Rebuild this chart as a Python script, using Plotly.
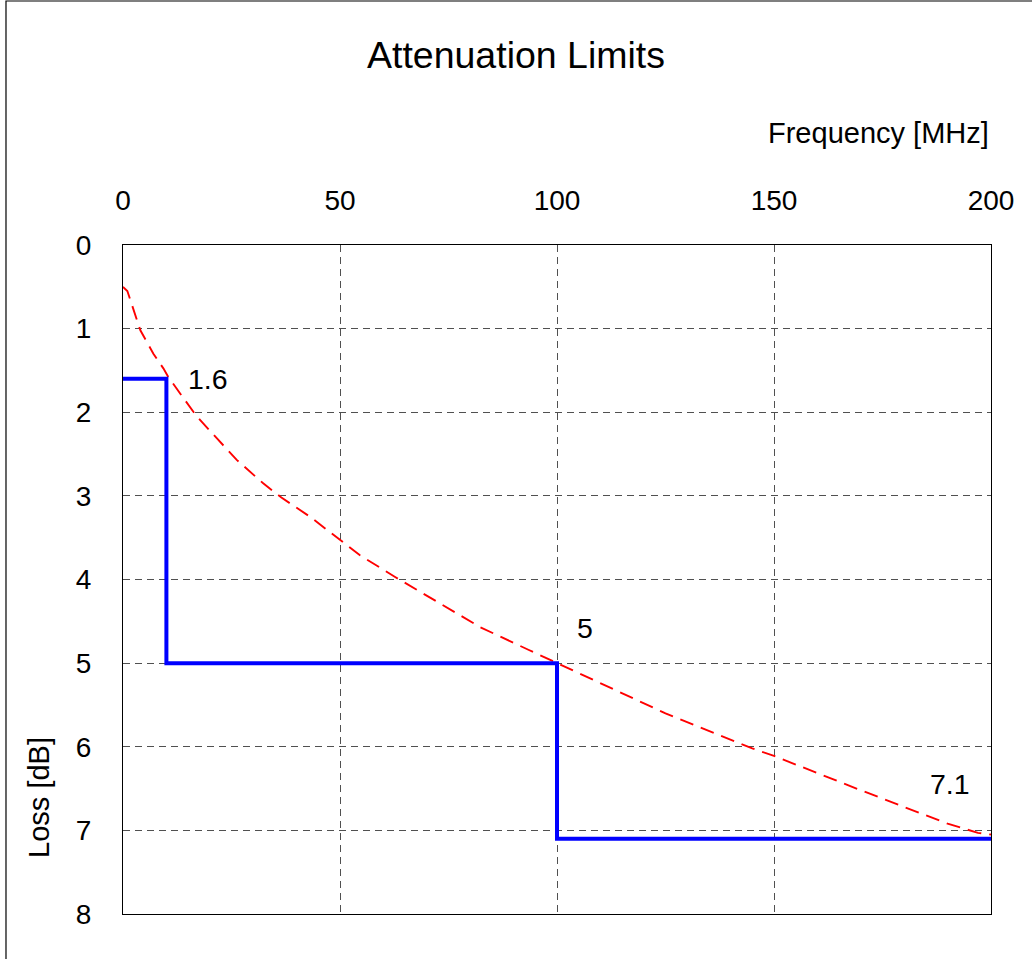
import plotly.graph_objects as go

# Limit (blue step line)
limit_freq = [0, 10, 10, 100, 100, 200]
limit_loss = [1.6, 1.6, 5.0, 5.0, 7.1, 7.1]

# Red dashed attenuation curve
curve_freq = [0, 1, 4, 7, 9.3, 10.4, 13.5, 17, 21.6, 26.2, 32.3, 36.5, 43.1, 49.6, 54.6,
              62.7, 73, 82.3, 93.4, 100, 125, 145, 150, 170, 180, 190, 197, 200]
curve_loss = [0.5, 0.55, 1.02, 1.30, 1.475, 1.575, 1.8, 2.05, 2.31, 2.57, 2.85, 3.02, 3.25, 3.51, 3.71,
              3.97, 4.29, 4.57, 4.84, 5.0, 5.6, 6.02, 6.11, 6.52, 6.72, 6.92, 7.03, 7.05]

# Labels
label_freq = [19.5, 106.5, 190.5]
label_loss = [1.6, 4.58, 6.44]
label_text = ["1.6", "5", "7.1"]

FONT = "Liberation Sans, Arial, sans-serif"

fig = go.Figure()
fig.add_trace(go.Scatter(x=curve_freq, y=curve_loss, mode="lines",
                         line=dict(color="#ff0000", width=1.9, dash="14px,8px"),
                         showlegend=False, hoverinfo="skip"))
fig.add_trace(go.Scatter(x=limit_freq, y=limit_loss, mode="lines",
                         line=dict(color="#0000ff", width=4),
                         showlegend=False))

for fx, fy, t in zip(label_freq, label_loss, label_text):
    fig.add_annotation(x=fx, y=fy, text=t, showarrow=False,
                       font=dict(size=28.5, color="black", family=FONT))

fig.add_annotation(xref="paper", yref="paper", x=1.0, y=1.167, xanchor="right",
                   yanchor="middle", text="Frequency [MHz]", showarrow=False,
                   font=dict(size=29, color="black", family=FONT))
fig.add_annotation(xref="paper", yref="paper", x=-0.0968, y=0.175, xanchor="center",
                   yanchor="middle", text="Loss [dB]", textangle=-90, showarrow=False,
                   font=dict(size=29, color="black", family=FONT))

# Outer frame (left and top edges visible)
fig.add_shape(type="rect", xref="paper", yref="paper", x0=-0.1348, x1=1.3,
              y0=-0.3, y1=1.3647, line=dict(color="black", width=1.2), layer="below")

fig.update_layout(
    width=1032, height=959,
    margin=dict(l=123, r=41, t=245, b=45),
    paper_bgcolor="white", plot_bgcolor="white",
    font=dict(family=FONT, size=28, color="black"),
    title=dict(text="Attenuation Limits", x=0.5, xanchor="center", y=0.943,
               yanchor="middle", font=dict(size=37.5, family=FONT, color="black")),
)
fig.update_xaxes(range=[0, 200], side="top", dtick=50, tick0=0,
                 showgrid=True, gridcolor="#505050", griddash="7px,5px", gridwidth=1,
                 showline=True, linecolor="black", linewidth=1.2, mirror=True,
                 zeroline=False, ticks="", ticklabelstandoff=23,
                 tickfont=dict(size=28))
fig.update_yaxes(range=[8, 0], dtick=1, tick0=0,
                 showgrid=True, gridcolor="#505050", griddash="7px,5px", gridwidth=1,
                 showline=True, linecolor="black", linewidth=1.2, mirror=True,
                 zeroline=False, ticks="", ticklabelstandoff=25,
                 tickfont=dict(size=28))

fig.write_html("out.html", config={"displayModeBar": False},
               post_script="document.body.style.margin='0px';")
